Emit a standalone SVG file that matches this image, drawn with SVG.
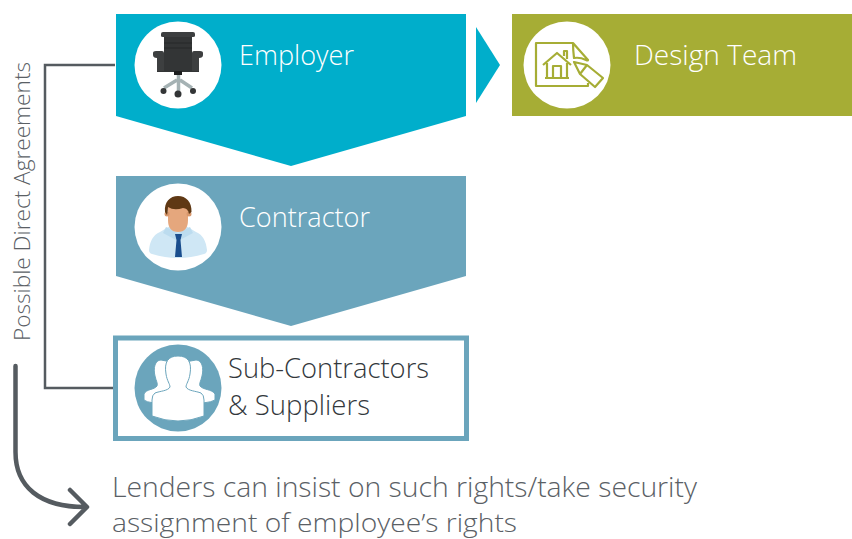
<svg xmlns="http://www.w3.org/2000/svg" width="852" height="539" viewBox="0 0 852 539">
<style>
text{font-family:"Open Sans","Liberation Sans",sans-serif;font-weight:300;font-size:27px}
.w{fill:#fff}
.k{fill:#33383c}
.g{fill:#5a6065}
.line{fill:none;stroke:#555b60;stroke-width:2.500}
.ol{fill:none;stroke:#a6ad35;stroke-width:2.200;stroke-linejoin:round}
</style>
<rect width="852" height="539" fill="#fff"/>
<g id="connectors">
<path class="line" d="M115 65H45V388H115"/>
<path d="M15.500 366V452C15.500 487 40 507 85 507M70 490L87 507L70 524" fill="none" stroke="#555b60" stroke-width="4.500" stroke-linecap="round" stroke-linejoin="round"/>
<polygon points="476,27 500,65 476,103" fill="#00aecb"/>
</g>
<g id="employer">
<polygon points="116,14 466,14 466,116 291,166 116,116" fill="#00aecb"/>
<circle cx="178" cy="65" r="43.500" fill="#fff"/>
<path d="M164 37H192V56H199V72H157V56H164Z" fill="#333536"/>
<path d="M161 34Q161 32 163 32H193Q195 32 195 34V36Q195 37 193 37H163Q161 37 161 36Z" fill="#3d3f40"/>
<path d="M153 53Q153 51 156 51H162Q164 51 164 53V71H157V58Q153 58 153 55ZM203 53Q203 51 200 51H194Q192 51 192 53V71H199V58Q203 58 203 55Z" fill="#3d3f40"/>
<path d="M164 43H192M164 48H192" stroke="#262829" stroke-width="1"/>
<rect x="174" y="71" width="8" height="4" fill="#1d1e1f"/>
<path d="M178.500 75V91M177 80L164 88M180 80L192 88" stroke="#a5b2b4" stroke-width="3.500" fill="none"/>
<circle cx="163.500" cy="91" r="3" fill="#333536"/><circle cx="178" cy="94" r="3.500" fill="#333536"/><circle cx="193" cy="91" r="3" fill="#333536"/>
<text class="w" x="239" y="65" textLength="115" lengthAdjust="spacingAndGlyphs">Employer</text>
</g>
<g id="design-team">
<rect x="512" y="14" width="340" height="102" fill="#a6ad35"/>
<circle cx="567" cy="65" r="43.500" fill="#fff"/>
<path class="ol" d="M573 43H536V86H588V83"/>
<path class="ol" d="M573 43L588 60Q588 61 586 60Q580 57 574 58Q573 50 573 43Z"/>
<path class="ol" d="M574 62L587 65L603 78L595 87L580 74ZM587 65L580 74"/>
<path class="ol" d="M543 65L557 53L571 65M547 63V78M567 63V78M545 78H569M553 78V66H561V78M564 56V51H567V59"/>
<text class="w" x="634" y="65" textLength="163" lengthAdjust="spacingAndGlyphs">Design Team</text>
</g>
<g id="contractor">
<polygon points="116,176 466,176 466,276 291,326 116,276" fill="#6ba5bc"/>
<circle cx="178" cy="227" r="43.500" fill="#fff"/>
<path d="M149 250C150 241 153 235 160 232L170 226H186L196 232C203 235 206 241 207 250Q207 253 204 254Q178 262 152 254Q149 253 149 250Z" fill="#cfe7f5"/>
<path d="M166 227L178 233L190 227L193 233L180 240H176L163 233Z" fill="#bcdcef"/>
<path d="M168 206H188V220Q188 232 178 232Q168 232 168 220Z" fill="#e5a77d"/>
<circle cx="167" cy="214" r="2.500" fill="#d8986d"/><circle cx="189" cy="214" r="2.500" fill="#d8986d"/>
<path d="M175 234H182L180.500 240L182 257H175L176.500 240Z" fill="#1a4e8e"/>
<path d="M165 212C164 202 170 196 178 196C186 196 192 202 191.500 212L189 214Q188 208 183 208Q174 211 168 207Q168 211 167 215Z" fill="#5f3814"/>
<text class="w" x="239" y="227" textLength="131" lengthAdjust="spacingAndGlyphs">Contractor</text>
</g>
<g id="sub-contractors">
<rect x="115.500" y="338" width="351" height="100.500" fill="#fff" stroke="#6ba5bc" stroke-width="5"/>
<circle cx="178" cy="388" r="43.500" fill="#6ba5bc"/>
<g fill="#fff" stroke="#6ba5bc" stroke-width="1">
<path d="M161 360C155 360 153 368 155 376C156 381 158 383 157 386C154 390 146 389 144 394V400Q146 402 154 403L175 400L172 362Z"/>
<path d="M196 360C202 360 204 368 202 376C201 381 199 383 200 386C203 390 212 389 215 394V400Q212 402 203 403L182 400L185 362Z"/>
<path d="M178 356C168 356 164 362 166 374C167 381 170 384 170 387C168 391 160 391 155 393Q152 395 152 400V416Q178 426 204 416V400Q204 395 201 393C196 391 188 391 186 387C186 384 189 381 190 374C192 362 188 356 178 356Z"/>
</g>
<text class="k" x="228" y="378" textLength="201" lengthAdjust="spacingAndGlyphs">Sub-Contractors</text>
<text class="k" x="228" y="415" textLength="142" lengthAdjust="spacingAndGlyphs">&amp; Suppliers</text>
</g>
<text class="g" x="30" y="341" transform="rotate(-90 30 341)" textLength="279" lengthAdjust="spacingAndGlyphs" style="font-size:21.500px">Possible Direct Agreements</text>
<text class="g" x="112" y="497" textLength="585" lengthAdjust="spacingAndGlyphs">Lenders can insist on such rights/take security</text>
<text class="g" x="112" y="532" textLength="405" lengthAdjust="spacingAndGlyphs" style="font-size:26px">assignment of employee’s rights</text>
</svg>
